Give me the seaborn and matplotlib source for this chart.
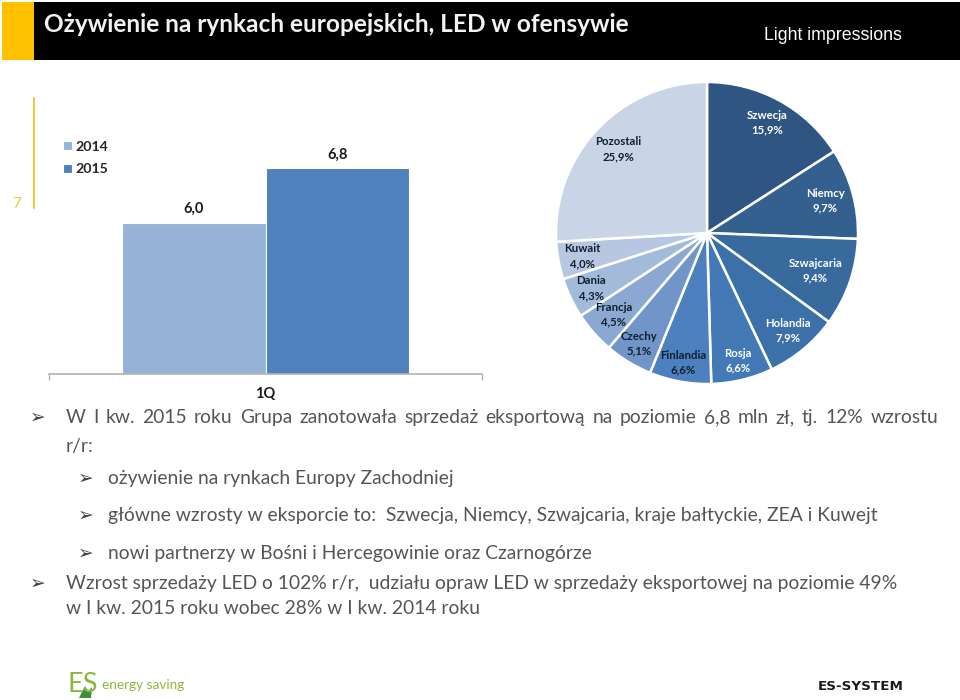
import numpy as np
import pandas as pd
import matplotlib
matplotlib.use('Agg')
import matplotlib.pyplot as plt
import seaborn as sns
from matplotlib.patches import Polygon, Rectangle

sns.set_theme(style="white")
plt.rcParams['font.family'] = ['Lato', 'DejaVu Sans']

# data
quarters = ['1Q', '1Q']
years = ['2014', '2015']
sales = [6.0, 6.8]

countries = ['Szwecja', 'Niemcy', 'Szwajcaria', 'Holandia', 'Rosja', 'Finlandia',
             'Czechy', 'Francja', 'Dania', 'Kuwait', 'Pozostali']
shares = [15.9, 9.7, 9.4, 7.9, 6.6, 6.6, 5.1, 4.5, 4.3, 4.0, 25.9]

title = 'Ożywienie na rynkach europejskich, LED w ofensywie'
brand = 'Light impressions'
body_lines = [
    'W I kw. 2015 roku Grupa zanotowała sprzedaż eksportową na poziomie 6,8 mln zł, tj. 12% wzrostu',
    'r/r:',
    'ożywienie na rynkach Europy Zachodniej',
    'główne wzrosty w eksporcie to:  Szwecja, Niemcy, Szwajcaria, kraje bałtyckie, ZEA i Kuwejt',
    'nowi partnerzy w Bośni i Hercegowinie oraz Czarnogórze',
    'Wzrost sprzedaży LED o 102% r/r,  udziału opraw LED w sprzedaży eksportowej na poziomie 49%',
    'w I kw. 2015 roku wobec 28% w I kw. 2014 roku',
]

# styles
W, H = 960, 700
bar_colors = ['#95b3d7', '#4f81bd']
pie_colors = ['#2f5682', '#34608f', '#386a9e', '#3c70a9', '#4379b5', '#4c80bf',
              '#7095c8', '#8aa8d2', '#a3bbdb', '#b7c7e1', '#c9d4e6']
label_colors = ['white'] * 5 + ['#10202f'] * 6
label_radius = [0.83, 0.81, 0.76, 0.84, 0.87, 0.875, 0.86, 0.82, 0.85, 0.84, 0.81]
body_x = [66, 66, 108, 108, 108, 66, 66]
body_base = [423, 452, 484, 521, 559, 589, 614]
bullet_x = [38, None, 86, 86, 86, 38, None]
TEXT_GREY = '#555555'
BODY_SIZE = 13.9


def box(left, top, right, bottom):
    return [left / W, 1 - bottom / H, (right - left) / W, (bottom - top) / H]


def justified(ax, line, x0, x1, y, **kw):
    # first line of the slide is stretched to the text box, word by word
    words = line.split(' ')
    items = [ax.text(x0, y, w, **kw) for w in words]
    rend = ax.figure.canvas.get_renderer()
    widths = [t.get_window_extent(rend).width for t in items]
    gap = (x1 - x0 - sum(widths)) / (len(words) - 1)
    x = x0
    for t, w in zip(items, widths):
        t.set_x(x)
        x += w + gap


fig = plt.figure(figsize=(9.6, 7.0), dpi=100)

# overlay in pixel coordinates for the slide furniture
page = fig.add_axes([0, 0, 1, 1], zorder=0)
page.set_xlim(0, W)
page.set_ylim(H, 0)
page.axis('off')

page.add_patch(Rectangle((34, 2), 926, 58, color='black', lw=0))
page.add_patch(Rectangle((2, 2), 32, 58, color='#ffc000', lw=0))
page.plot([34, 34], [98, 208], color='#f0c93c', lw=1.5)
page.text(17, 204, '7', color='#f0c93c', fontsize=11, ha='center', va='center')
page.text(44, 24, title, color='#f2f2f2', fontsize=17.6, fontweight='bold', va='center')
page.text(764, 36, brand, color='white', fontsize=12.8, va='center',
          family=['Liberation Sans'])

# bar chart
df = pd.DataFrame({'quarter': quarters, 'year': years, 'sales': sales})
ax = fig.add_axes(box(49, 86, 482, 374), zorder=1)
ax.patch.set_alpha(0)
sns.barplot(data=df, x='quarter', y='sales', hue='year', palette=bar_colors, saturation=1,
            width=0.663, gap=0.0, edgecolor='white', linewidth=0.8, ax=ax)
ax.set_xlim(-0.5, 0.5)
ax.set_ylim(3.8, 8.0)
ax.set_xlabel('')
ax.set_ylabel('')
ax.set_yticks([])
sns.despine(ax=ax, left=True)
ax.spines['bottom'].set_color('#b3b3b3')
ax.spines['bottom'].set_linewidth(1.2)
ax.set_xticks([-0.5, 0.5], minor=True)
ax.tick_params(axis='x', which='minor', length=4.5, width=1, color='#b3b3b3', bottom=True)
ax.tick_params(axis='x', which='major', length=0, pad=9)
for lab in ax.get_xticklabels():
    lab.set_fontweight('bold')
    lab.set_fontsize(10.5)
    lab.set_color('#1a1a1a')
for container, value in zip(ax.containers, sales):
    ax.bar_label(container, labels=[f'{value:.1f}'.replace('.', ',')], padding=5,
                 fontsize=10.5, fontweight='bold', color='#1a1a1a')
ax.legend(loc='upper left', bbox_to_anchor=(0.032, 0.81), frameon=False,
          handlelength=0.62, handleheight=0.62, handletextpad=0.3, labelspacing=0.75,
          borderpad=0, borderaxespad=0, prop={'weight': 'bold', 'size': 10.2})

# pie chart
ax_pie = fig.add_axes(box(556, 82, 858, 384), zorder=1)
wedges, _ = ax_pie.pie(shares, colors=pie_colors, startangle=90, counterclock=False, radius=1,
                       wedgeprops={'edgecolor': 'white', 'linewidth': 1.8})
ax_pie.set_xlim(-1, 1)
ax_pie.set_ylim(-1, 1)
for wedge, name, share, col, rad in zip(wedges, countries, shares, label_colors, label_radius):
    ang = np.deg2rad((wedge.theta1 + wedge.theta2) / 2)
    ax_pie.text(rad * np.cos(ang), rad * np.sin(ang),
                f'{name}\n{share:.1f}%'.replace('.', ','),
                color=col, fontsize=8.2, fontweight='bold', ha='center', va='center',
                linespacing=1.4)

# bullet text
body_style = dict(color=TEXT_GREY, fontsize=BODY_SIZE, va='baseline')
for i, (line, x, y, bx) in enumerate(zip(body_lines, body_x, body_base, bullet_x)):
    if i == 0:
        justified(page, line, x, 938, y, **body_style)
    else:
        page.text(x, y, line, **body_style)
    if bx is not None:
        page.text(bx, y, '\u27a2', color='#404040', fontsize=13.5, va='baseline', ha='center',
                  family=['DejaVu Sans'])

# footer logos
page.text(67, 685, 'ES', color='#8db63c', fontsize=19.5, va='center')
page.add_patch(Polygon([[79, 698], [85, 686], [88, 692], [92, 687], [91, 698]], color='#3f8f3a', lw=0))
page.text(102, 685, 'energy saving', color='#8db63c', fontsize=9.8, va='center')
page.text(818, 686, 'ES-SYSTEM', color='#1a1a1a', fontsize=9.7, fontweight='bold', va='center',
          family=['DejaVu Sans'])

fig.savefig('out.png', dpi=100)
